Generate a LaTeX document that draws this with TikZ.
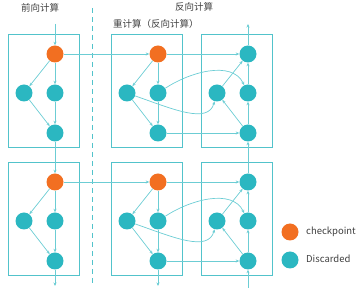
\documentclass[tikz,border=0pt]{standalone}
\usepackage{fontspec}
\setmainfont{Noto Sans CJK SC}
\usetikzlibrary{arrows.meta, positioning}
\definecolor{nodeteal}{HTML}{2BB7C1}
\definecolor{ckorange}{HTML}{F26F21}
\definecolor{boxteal}{HTML}{52C3CB}
\definecolor{edgeteal}{HTML}{6CCDD4}
\definecolor{textgray}{HTML}{404040}

\begin{document}
\begin{tikzpicture}[
  x=1pt, y=-1pt,
  ckpt/.style={circle, fill=ckorange, minimum size=17pt, inner sep=0pt},
  disc/.style={circle, fill=nodeteal, minimum size=17pt, inner sep=0pt},
  panel/.style={draw=boxteal, line width=0.8pt},
  edge/.style={-{Stealth[length=3.5pt, width=3pt]}, draw=edgeteal, line width=0.7pt},
  sep/.style={draw=boxteal, line width=0.8pt, dash pattern=on 5pt off 4pt},
  lbl/.style={text=textgray, font=\fontsize{9.5}{11}\selectfont, inner sep=2pt},
]
\useasboundingbox (0,0) rectangle (362,288);

% titles
\node[lbl] (fwdtitle) at (40,8) {前向计算};
\node[lbl] (bwdtitle) at (194,7) {反向计算};
\node[lbl, anchor=west] (retitle) at (111,24) {重计算（反向计算）};
\draw[sep] (92.5,8) -- (92.5,285);

% panels
\foreach \x in {8,111,201} {
  \foreach \y in {34,162} {
    \draw[panel] (\x,\y) rectangle ++(71,113.5);
  }
}

% nodes, one row per segment
\foreach \r/\dy in {1/0, 2/128} {
  \node[ckpt] (fwdck\r) at (55,{54+\dy}) {};
  \node[disc] (fwdl\r)  at (24,{93+\dy}) {};
  \node[disc] (fwdm\r)  at (55,{93+\dy}) {};
  \node[disc] (fwdb\r)  at (55,{133+\dy}) {};
  \node[ckpt] (reck\r)  at (158,{54+\dy}) {};
  \node[disc] (rel\r)   at (127,{93+\dy}) {};
  \node[disc] (rem\r)   at (158,{93+\dy}) {};
  \node[disc] (reb\r)   at (158,{133+\dy}) {};
  \node[disc] (bwt\r)   at (248,{54+\dy}) {};
  \node[disc] (bwl\r)   at (217,{93+\dy}) {};
  \node[disc] (bwm\r)   at (248,{93+\dy}) {};
  \node[disc] (bwb\r)   at (248,{133+\dy}) {};
}

% edges inside each row
\foreach \r/\dy in {1/0, 2/128} {
  \draw[edge] (fwdck\r) -- (fwdl\r);
  \draw[edge] (fwdck\r) -- (fwdm\r);
  \draw[edge] (fwdl\r) -- (fwdb\r);
  \draw[edge] (fwdm\r) -- (fwdb\r);
  \draw[edge] (reck\r) -- (rel\r);
  \draw[edge] (reck\r) -- (rem\r);
  \draw[edge] (rel\r) -- (reb\r);
  \draw[edge] (rem\r) -- (reb\r);
  \draw[edge] (bwb\r) -- (bwm\r);
  \draw[edge] (bwm\r) -- (bwt\r);
  \draw[edge] (bwb\r) -- (bwl\r);
  \draw[edge] (bwl\r) -- (bwt\r);
  \draw[edge] (fwdck\r) -- (reck\r);
  \draw[edge] (reck\r) -- (bwt\r);
  \draw[edge] (reb\r) -- (bwb\r);
  \draw[edge] (rem\r) .. controls (190,{72+\dy}) and (232,{60+\dy}) .. (bwm\r);
  \draw[edge] (rel\r) .. controls (175,{110+\dy}) and (208,{124+\dy}) .. (bwl\r);
}

% between rows and in/out
\coordinate (fwdin)  at (55,24);
\coordinate (bwout)  at (248,24);
\coordinate (fwdout) at (55,286);
\coordinate (reout)  at (158,286);
\coordinate (bwin)   at (248,288);
\draw[edge] (fwdin) -- (fwdck1);
\draw[edge] (bwt1) -- (bwout);
\draw[edge] (fwdb1) -- (fwdck2);
\draw[edge] (bwt2) -- (bwb1);
\draw[edge] (fwdb2) -- (fwdout);
\draw[edge] (reb2) -- (reout);
\draw[edge] (bwin) -- (bwb2);

% legend
\node[ckpt] (legck) at (290,232) {};
\node[disc] (legdc) at (290,260) {};
\node[lbl, anchor=west] (legcktext) at (304,232) {checkpoint};
\node[lbl, anchor=west] (legdctext) at (304,259) {Discarded};
\end{tikzpicture}
\end{document}
